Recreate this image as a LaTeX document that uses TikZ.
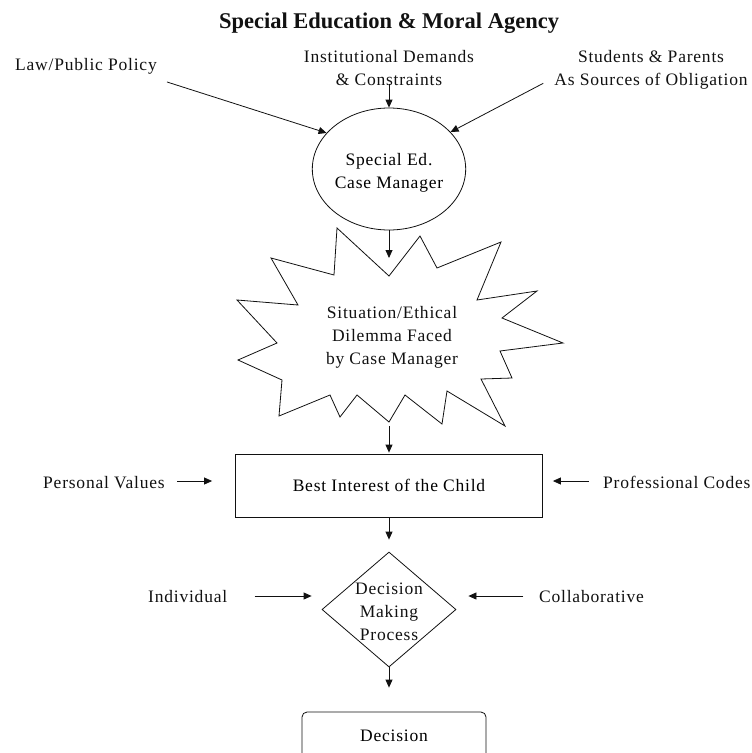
\documentclass[tikz,border=0pt]{standalone}
\usepackage{fontspec}
\setmainfont{Liberation Serif}
\newfontfamily\lblfont[LetterSpace=4.5]{Liberation Serif}
\usetikzlibrary{arrows.meta, positioning, calc, shapes.geometric}
\definecolor{ink}{HTML}{111111}
\newcommand{\lbl}{\lblfont\fontsize{17.5}{23}\selectfont}
\tikzset{
  T/.style={font=\lbl, inner sep=0pt, text=ink},
  ttl/.style={font=\fontsize{22.5}{26}\selectfont\bfseries, inner sep=0pt, text=ink},
  B/.style={draw=ink, line width=0.8pt, font=\lbl, align=center, inner sep=0pt},
  A/.style={-{Triangle[length=8pt,width=7pt]}, line width=0.8pt, draw=ink},
}

\begin{document}
\begin{tikzpicture}[x=1pt, y=-1pt]
\useasboundingbox (0,0) rectangle (752,753);
\clip (0,0) rectangle (752,753);

% ── title ───────────────────────────────────────────────────────────────────
\node[ttl, anchor=base] (title) at (389,28) {Special Education \& Moral Agency};

% ── sources of obligation ───────────────────────────────────────────────────
\node[T, anchor=base west] (law) at (15,70) {Law/Public Policy};
\node[T, anchor=north, align=center] (inst) at (389,50) {Institutional Demands\\\& Constraints};
\node[T, anchor=north, align=center] (stud) at (651,50) {Students \& Parents\\As Sources of Obligation};

% ── case manager ────────────────────────────────────────────────────────────
\node[B, ellipse, minimum width=134pt, minimum height=122pt] (cm) at (389,169) {\rule{0pt}{20pt}Special Ed.\\Case Manager};
\draw[A] ($(law.south east)+(10,8)$) -- (cm.150);
\draw[A] ($(inst.south)+(0,-2)$) -- (cm.north);
\draw[A] ($(stud.south west)+(-11,-6)$) -- (cm.31);

% ── dilemma (burst) ─────────────────────────────────────────────────────────
\draw[ink, line width=0.8pt] (389,276) coordinate (sTop) -- (420,236) -- (437,268) -- (501,242)
  -- (477,300) -- (537,291) -- (502,318) -- (563,343) -- (500,351) -- (512,378) -- (481,379)
  -- (505,426) -- (447,391) -- (442,424) -- (405,395) -- (389,422) coordinate (sBot)
  -- (357,395) -- (340,417) -- (330,395) -- (279,416) -- (282,380) -- (238,360) -- (277,343)
  -- (237,300) -- (298,305) -- (271,258) -- (334,275) -- (337,228) -- cycle;
\node[T, align=center] (dil) at (392,337.5) {Situation/Ethical\\Dilemma Faced\\by Case Manager};
\draw[A, shorten >=18pt] (cm.south) -- (sTop);

% ── best interest ───────────────────────────────────────────────────────────
\node[B, minimum width=307pt, minimum height=63pt] (best) at (389,485.5) {Best Interest of the Child};
\draw[A, shorten <=4pt, shorten >=1pt] (sBot) -- (best.north);

\node[T, anchor=base west] (pv) at (43,488.5) {Personal Values};
\node[T, anchor=base west] (pc) at (603,488.5) {Professional Codes};
\draw[A] ($(best.west)+(-58,-4.5)$) -- ($(best.west)+(-23,-4.5)$);
\draw[A] ($(best.east)+(46,-4.5)$) -- ($(best.east)+(10,-4.5)$);

% ── decision making ─────────────────────────────────────────────────────────
\node[B, diamond, minimum width=134pt, minimum height=115pt] (dec) at (389,609.5) {};
\node[T, align=center] (dectxt) at (389,612) {Decision\\Making\\Process};
\draw[A, shorten >=12pt] (best.south) -- (dec.north);

\node[T, anchor=base west] (ind) at (148,602.5) {Individual};
\node[T, anchor=base west] (col) at (539,602.5) {Collaborative};
\draw[A] ($(dec.west)+(-67,-13.5)$) -- ($(dec.west)+(-10,-13.5)$);
\draw[A] ($(dec.east)+(67,-13.5)$) -- ($(dec.east)+(12,-13.5)$);

% ── decision ────────────────────────────────────────────────────────────────
\node[B, rounded corners=5pt, minimum width=184pt, minimum height=48pt] (fin) at (394,736) {Decision};
\draw[A, shorten >=24pt] (dec.south) -- (dec.south |- fin.north);

\end{tikzpicture}
\end{document}
